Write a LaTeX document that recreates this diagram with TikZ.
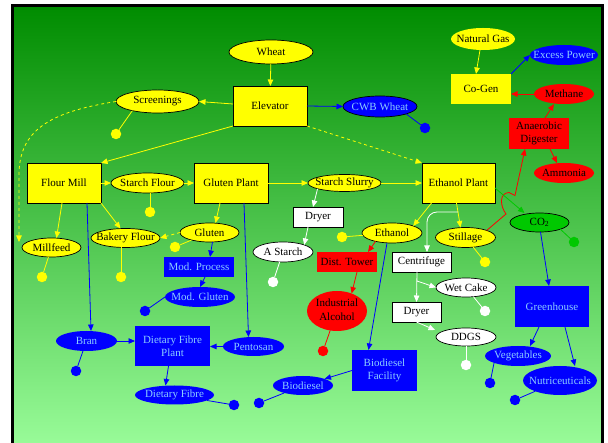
\documentclass[tikz,border=0pt]{standalone}
\usepackage{fontspec}
\setmainfont{Liberation Serif}
\usetikzlibrary{shapes.geometric,arrows.meta,calc}
\definecolor{ylw}{RGB}{255,255,0}
\definecolor{bl}{RGB}{0,0,255}
\definecolor{lbl}{RGB}{140,205,255}
\definecolor{rd}{RGB}{255,0,0}
\definecolor{grn}{RGB}{0,200,0}
\definecolor{bgtop}{RGB}{0,140,0}
\definecolor{bgbot}{RGB}{152,251,152}
\newcommand{\zw}[1]{\makebox[0pt]{#1}}
\newcommand{\twol}[2]{\begin{tabular}{@{}c@{}}#1\\#2\end{tabular}}
\begin{document}
\begin{tikzpicture}[x=1pt,y=-1pt,
  every node/.style={font=\fontsize{11}{13.5}\selectfont, inner sep=0pt, outer sep=0pt},
  sz/.style 2 args={minimum width=#1, minimum height=#2},
  ell/.style={ellipse, line width=0.7pt},
  box/.style={rectangle, line width=0.7pt},
  yell/.style={ell, fill=ylw, draw=black, text=black},
  yellnb/.style={ell, fill=ylw, text=black},
  bell/.style={ell, fill=bl, text=lbl},
  bellk/.style={ell, fill=bl, draw=black, text=lbl},
  rell/.style={ell, fill=rd, text=black},
  well/.style={ell, fill=white, draw=black, text=black},
  gell/.style={ell, fill=grn, draw=black, text=black},
  ybox/.style={box, fill=ylw, draw=black, text=black},
  yboxnb/.style={box, fill=ylw, text=black},
  bbox/.style={box, fill=bl, text=lbl},
  rbox/.style={box, fill=rd, text=black},
  wbox/.style={box, fill=white, draw=black, text=black},
  dotnode/.style={circle, minimum size=10.5pt},
  dy/.style={dotnode, fill=ylw},
  db/.style={dotnode, fill=bl},
  dw/.style={dotnode, fill=white},
  dr/.style={dotnode, fill=rd},
  dg/.style={dotnode, fill=grn},
  conn/.style={line width=0.8pt},
  tip/.style={-{Triangle[length=6.5pt,width=5.5pt]}},
  ya/.style={conn, draw=ylw, tip},
  ba/.style={conn, draw=bl, tip},
  ra/.style={conn, draw=rd, tip},
  ga/.style={conn, draw=grn, tip},
  wa/.style={conn, draw=white, tip},
  yl/.style={conn, draw=ylw},
  bln/.style={conn, draw=bl},
  rl/.style={conn, draw=rd},
  gl/.style={conn, draw=grn},
  wl/.style={conn, draw=white}
]
\useasboundingbox (0,0) rectangle (608,443);
\fill[white] (0,0) rectangle (608,443);
\shade[top color=bgtop, bottom color=bgbot] (12.5,5.5) rectangle (602.5,443);
\draw[black, line width=3pt] (12.5,446) -- (12.5,5.5) -- (602.5,5.5) -- (602.5,446);

% nodes
\node[yell, sz={84}{24}] (wheat) at (271,52) {\zw{Wheat}};
\node[ybox, sz={74}{40}] (elev) at (270,106) {Elevator};
\node[yell, sz={83}{23}] (scr) at (157.5,101.5) {\zw{Screenings}};
\node[bellk, sz={74}{21}] (cwb) at (380,106.5) {\zw{CWB Wheat}};
\node[yellnb, sz={64}{22}] (ng) at (483,39) {\zw{Natural Gas}};
\node[yboxnb, sz={60}{30}] (cogen) at (481,89) {Co-Gen};
\node[bell, sz={68}{20}] (xp) at (564,55) {\zw{Excess Power}};
\node[rell, sz={60}{20}] (meth) at (564,94) {\zw{Methane}};
\node[rbox, sz={60}{31}, align=center] (dig) at (539,133.5) {Anaerobic\\Digester};
\node[rell, sz={60}{20}] (amm) at (564,173) {\zw{Ammonia}};
\node[ybox, sz={74}{40}] (fm) at (64,183) {Flour Mill};
\node[yell, sz={73}{20}] (sf) at (147.5,183) {\zw{Starch Flour}};
\node[ybox, sz={74}{40}] (gp) at (231,183) {Gluten Plant};
\node[yell, sz={73}{17}] (ss) at (344.5,183) {\zw{Starch Slurry}};
\node[ybox, sz={73}{40}] (ep) at (458.5,183) {Ethanol Plant};
\node[yell, sz={59}{19}] (mf) at (51.5,247.5) {\zw{Millfeed}};
\node[yell, sz={69}{19}] (bf) at (125.5,238) {\zw{Bakery Flour}};
\node[yell, sz={59}{19}] (glu) at (209.5,232.5) {\zw{Gluten}};
\node[bbox, sz={70}{20}] (mp) at (199,267) {Mod. Process};
\node[bell, sz={70}{20}] (mg) at (200,297) {\zw{Mod. Gluten}};
\node[bell, sz={61}{20}] (bran) at (86.5,341) {\zw{Bran}};
\node[bbox, sz={75}{40}, align=center] (dfp) at (172.5,346) {Dietary Fibre\\Plant};
\node[bell, sz={61}{19}] (pent) at (253.5,346.5) {\zw{Pentosan}};
\node[bell, sz={79}{19}] (df) at (174.5,395) {\zw{Dietary Fibre}};
\node[wbox, sz={50}{20}] (dry1) at (318,217) {Dryer};
\node[well, sz={60}{20}] (as) at (283,252) {\zw{A Starch}};
\node[yell, sz={60}{20}] (eth) at (392,233) {\zw{Ethanol}};
\node[rbox, sz={60}{20}] (dt) at (347,262) {Dist. Tower};
\node[rell, sz={60}{40}] (ia) at (337,311) {\zw{\twol{Industrial}{Alcohol}}};
\node[bbox, sz={65}{41}, align=center] (bdf) at (384.5,370.5) {Biodiesel\\Facility};
\node[bell, sz={60}{19}] (bd) at (303,385.5) {\zw{Biodiesel}};
\node[yell, sz={60}{20}] (st) at (465.5,237.5) {\zw{Stillage}};
\node[gell, sz={59}{19}] (co2) at (539.5,222.5) {\zw{CO\textsubscript{2}}};
\node[wbox, sz={59}{20}] (cf) at (421.5,262) {Centrifuge};
\node[well, sz={60}{19}] (wc) at (466,287.5) {\zw{Wet Cake}};
\node[wbox, sz={49}{20}] (dry2) at (416.5,312) {Dryer};
\node[well, sz={60}{18}] (ddgs) at (466,337) {\zw{DDGS}};
\node[bbox, sz={74}{41}] (gh) at (552,306.5) {Greenhouse};
\node[bell, sz={66}{20}] (veg) at (518,356) {\zw{Vegetables}};
\node[bell, sz={74}{29}] (nut) at (560,380.5) {\zw{Nutriceuticals}};

% dots
\node[dy] (scrd) at (116,134) {};
\node[db] (cwbd) at (425,128) {};
\node[dy] (sfd) at (150,212) {};
\node[dy] (mfd) at (42,277) {};
\node[dy] (bfd) at (121,277) {};
\node[dy] (gld) at (175,247) {};
\node[dw] (asd) at (273,282) {};
\node[dy] (ethd) at (342,237) {};
\node[dy] (std) at (485,262) {};
\node[dg] (co2d) at (574,242) {};
\node[dw] (wcd) at (485,311) {};
\node[dw] (ddgsd) at (466,365) {};
\node[dr] (iad) at (323,351) {};
\node[db] (mgd) at (145,311) {};
\node[db] (brd) at (76,371) {};
\node[db] (dfd) at (234,405) {};
\node[db] (bdd) at (259,403) {};
\node[db] (vgd) at (490,383) {};
\node[db] (nud) at (515,400) {};

% helper coordinates
\coordinate (mfin) at (19,242);
\coordinate (cfork) at (458,212);
\coordinate (wfork) at (417,281);
\coordinate (h1) at (506,214);
\coordinate (h2) at (509,192.5);
\coordinate (h3) at (515,195.5);

% yellow connectors
\draw[ya] (wheat) -- (elev);
\draw[ya] ([yshift=2pt]elev.west) -- (scr.east);
\draw[ya] (elev.south west) -- (fm.north east);
\draw[ya, dashed] (elev.south east) -- (ep.north west);
\draw[ya] (fm.east) -- (sf.west);
\draw[ya] (sf.east) -- (gp.west);
\draw[ya] (gp.east) -- (ss.west);
\draw[ya] (ss.east) -- (ep.west);
\draw[ya] ([xshift=-2pt]fm.south) -- ([xshift=5pt]mf.north);
\draw[ya] (fm.south east) -- ([xshift=-5pt]bf.north);
\draw[ya] ([xshift=-11pt]gp.south) -- ([xshift=6pt]glu.north);
\draw[ya, dashed] (glu.west) -- (bf.east);
\draw[ya, dashed] (scr.west) .. controls (50,112) and (19,130) .. (19,175) -- (mfin);
\draw[ya] ([xshift=-27pt]ep.south) -- (eth.north east);
\draw[ya] ([xshift=-2pt]ep.south) -- ([xshift=-5pt]st.north);
\draw[ya] ([xshift=-3pt]ng.south) -- ([xshift=-5pt]cogen.north);

% yellow dot lines
\draw[yl] (scr.200) -- (scrd);
\draw[yl] ([xshift=2.5pt]sf.south) -- (sfd);
\draw[yl] (mf) -- (mfd);
\draw[yl] ([xshift=-4.5pt]bf.south) -- (bfd);
\draw[yl] (glu) -- (gld);
\draw[yl] (eth) -- (ethd);
\draw[yl] (st) -- (std);

% blue connectors
\draw[ba] (elev.east) -- (cwb.west);
\draw[ba] (cogen.north east) -- (xp.west);
\draw[ba] ([xshift=23pt]fm.south) -- ([xshift=4.5pt]bran.north);
\draw[ba] (bran.east) -- (bran.east -| dfp.west);
\draw[ba] ([xshift=13pt]gp.south) -- ([xshift=-5pt]pent.north);
\draw[ba] (pent.west) -- (pent.west -| dfp.east);
\draw[ba] ([xshift=-4pt]dfp.south) -- ([xshift=-9pt]df.north);
\draw[ba] ([xshift=3pt]glu.south) -- ([xshift=11pt]mp.north);
\draw[ba] ([xshift=6pt]mp.south) -- (mg.north);
\draw[ba] ([xshift=-5pt]eth.south) -- ([xshift=-16pt]bdf.north);
\draw[ba] (bdf.west) -- (bd);
\draw[ba] ([xshift=1pt]co2.south) -- ([xshift=-3pt]gh.north);
\draw[ba] ([xshift=-13pt]gh.south) -- ([xshift=12pt]veg.north);
\draw[ba] ([xshift=13pt]gh.south) -- ([xshift=15pt]nut.north);

% blue dot lines
\draw[bln] (cwb.south east) -- (cwbd);
\draw[bln] (mg.west) -- (mgd);
\draw[bln] (bran) -- (brd);
\draw[bln] (df) -- (dfd);
\draw[bln] (bd) -- (bdd);
\draw[bln] (veg.196) -- (vgd);
\draw[bln] (nut) -- (nud);

% red connectors
\draw[ra] (meth.west) -- (meth.west -| cogen.east);
\draw[ra] ([xshift=6pt]dig.north) -- ([xshift=-10pt]meth.south);
\draw[ra] ([xshift=11pt]dig.south) -- ([xshift=-7pt]amm.north);
\draw[ra] (eth.207) -- ([xshift=21pt]dt.north);
\draw[ra] ([xshift=10pt]dt.south) -- (ia.50);
\draw[ra] (st.north east) -- (h1) .. controls (500,206) and (499,193) .. (h2) -- (h3) -- ([xshift=-14pt]dig.south);
\draw[rl] (ia) -- (iad);

% green connectors
\draw[ga] ([yshift=-5pt]ep.east) -- ([xshift=-15pt]co2.north);
\draw[gl] (co2.south east) -- (co2d);

% white connectors
\draw[wa] (ss.192) -- ([xshift=-5pt]dry1.north);
\draw[wa] ([xshift=-10pt]dry1.south) -- (as.north east);
\draw[wa, rounded corners=10pt] (cfork) -| ([xshift=5.5pt]cf.north);
\draw[wa] ([xshift=-4.5pt]cf.south) -- (dry2.north);
\draw[wa] (wfork) -- (wc.west);
\draw[wa] (dry2.south) -- ([xshift=-1pt,yshift=7pt]ddgs.west);
\draw[wl] (as) -- (asd);
\draw[wl] (wc) -- (wcd);
\draw[wl] (ddgs.south) -- (ddgsd);
\end{tikzpicture}
\end{document}
